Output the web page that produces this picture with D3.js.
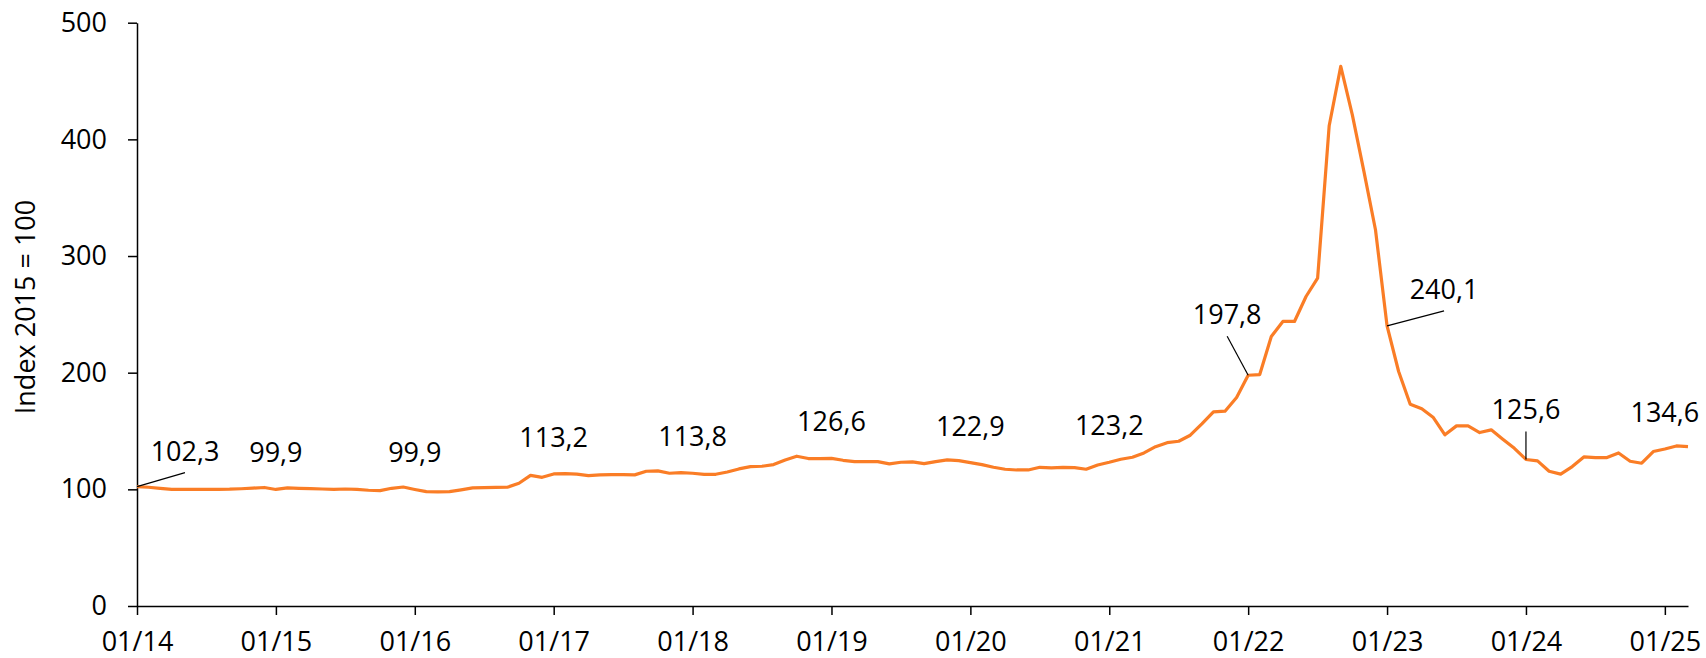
<!DOCTYPE html>
<html>
<head>
<meta charset="utf-8">
<script src="https://cdn.jsdelivr.net/npm/d3@7"></script>
<style>
  html, body { margin: 0; padding: 0; background: #fff; }
  svg { display: block; font-family: "Open Sans", sans-serif; }
</style>
</head>
<body>
<svg id="chart" width="1706" height="658"></svg>
<script>
// monthly index values, 01/2014 .. 03/2025
var values = [
  102.3, 101.8, 100.9, 100.0, 99.9, 99.9, 100.0, 100.0, 100.1, 100.5, 101.0, 101.6,
  99.9, 101.2, 100.9, 100.6, 100.3, 100.0, 100.3, 100.0, 99.2, 98.9, 100.9, 102.0,
  99.9, 98.0, 97.8, 98.0, 99.5, 101.2, 101.5, 101.6, 101.8, 105.2, 112.0, 110.3,
  113.2, 113.5, 113.0, 111.8, 112.4, 112.6, 112.6, 112.4, 115.5, 115.8, 113.8, 114.4,
  113.8, 112.9, 112.9, 114.9, 117.5, 119.5, 119.8, 121.2, 125.2, 128.4, 126.4, 126.4,
  126.6, 124.9, 123.8, 123.8, 123.8, 121.8, 123.2, 123.5, 122.0, 123.8, 125.2, 124.6,
  122.9, 121.2, 118.9, 117.2, 116.6, 116.6, 118.9, 118.4, 118.9, 118.6, 117.2, 120.9,
  123.2, 125.8, 127.5, 131.2, 136.6, 140.0, 141.2, 146.4, 156.1, 166.4, 167.0, 178.7,
  197.8, 198.4, 231.0, 243.9, 243.9, 265.3, 281.0, 411.7, 462.6, 421.0, 372.5, 322.5,
  240.1, 201.0, 173.0, 169.0, 161.5, 146.7, 154.4, 154.4, 148.7, 151.0, 143.0, 135.2,
  125.6, 124.4, 115.5, 113.0, 119.5, 127.8, 127.2, 127.2, 131.2, 124.1, 122.4, 132.4,
  134.6, 137.2, 136.6
];

var tickLabels = ['01/14', '01/15', '01/16', '01/17', '01/18', '01/19',
                  '01/20', '01/21', '01/22', '01/23', '01/24', '01/25'];
var yTicks = [0, 100, 200, 300, 400, 500];
var yTitle = 'Index 2015 = 100';

// months that carry a value label (January of each year)
var labelMonths = [0, 12, 24, 36, 48, 60, 72, 84, 96, 108, 120, 132];

(function(){
  // label placement (pixels), leader line drawn when set
  var labelOffsets = {
    0:   {dx: 48,  dy: -26, leader: true},
    96:  {dx: -21, dy: -51, leader: true},
    108: {dx: 57,  dy: -27, leader: true},
    120: {dx: 0,   dy: -40, leader: true}
  };

  var
    svg = d3.select('#chart'),
    plotLeft = 137, plotRight = 1688, plotTop = 22.7, plotBottom = 606,
    fontSize = 27,
    lineColor = '#FA7D26'
    ;

  var xScale = d3.scaleLinear()
    .domain([0, values.length - 1])
    .range([plotLeft, plotRight]);

  var yScale = d3.scaleLinear()
    .domain([0, 500])
    .range([plotBottom, plotTop]);

  svg.append('g')
    .attr('class', 'axis axis--y')
    .attr('transform', 'translate(' + plotLeft + ',0)')
    .call(d3.axisLeft(yScale).tickValues(yTicks).tickSize(9).tickSizeOuter(0).tickPadding(21));

  svg.append('g')
    .attr('class', 'axis axis--x')
    .attr('transform', 'translate(0,' + plotBottom + ')')
    .call(d3.axisBottom(xScale)
      .tickValues(d3.range(tickLabels.length).map(function(i){ return i * 12; }))
      .tickFormat(function(d){ return tickLabels[d / 12]; })
      .tickSize(9).tickSizeOuter(0).tickPadding(17));

  svg.selectAll('.axis path, .axis line')
    .attr('stroke', '#000')
    .attr('stroke-width', 1.5);

  svg.selectAll('.axis text')
    .attr('font-family', '"Open Sans", sans-serif')
    .attr('font-size', fontSize)
    .attr('fill', '#000');

  // axis title
  svg.append('text')
    .attr('transform', 'translate(35,307) rotate(-90)')
    .attr('text-anchor', 'middle')
    .attr('font-size', fontSize)
    .attr('fill', '#000')
    .text(yTitle);

  var line = d3.line()
    .x(function(d, i){ return xScale(i); })
    .y(function(d){ return yScale(d); });

  svg.append('path')
    .datum(values)
    .attr('fill', 'none')
    .attr('stroke', lineColor)
    .attr('stroke-width', 3.2)
    .attr('stroke-linejoin', 'round')
    .attr('d', line);

  var fmt = function(v){ return v.toFixed(1).replace('.', ','); };

  var labels = svg.append('g').attr('class', 'labels');

  labelMonths.forEach(function(m){
    var
      px = xScale(m),
      py = yScale(values[m]),
      off = labelOffsets[m] || {dx: 0, dy: -27, leader: false},
      lx = px + off.dx,
      ly = py + off.dy
      ;
    if (off.leader) {
      labels.append('line')
        .attr('x1', px).attr('y1', py)
        .attr('x2', lx).attr('y2', ly + 12)
        .attr('stroke', '#000')
        .attr('stroke-width', 1.2);
    }
    labels.append('text')
      .attr('x', lx)
      .attr('y', ly)
      .attr('text-anchor', 'middle')
      .attr('font-size', fontSize)
      .attr('fill', '#000')
      .text(fmt(values[m]));
  });
})();
</script>
</body>
</html>
